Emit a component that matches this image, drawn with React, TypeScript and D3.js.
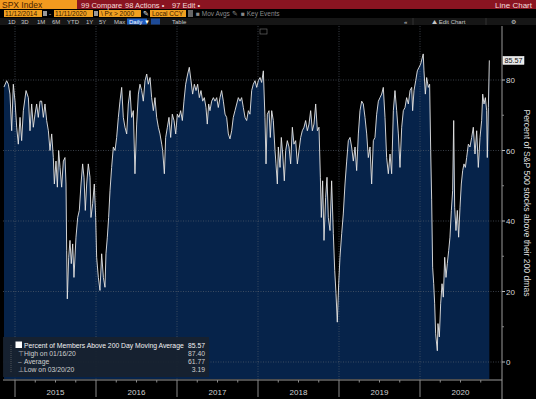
import React from "react";
import * as d3 from "d3";

// percent of S&P 500 members above their 200 day moving average, [decimal year, value]
const y2015 = [
  [2014.864, 78], [2014.897, 79.8], [2014.918, 78.8], [2014.938, 76], [2014.959, 65.6], [2014.979, 78.8],
  [2015.0, 74], [2015.021, 66.6], [2015.041, 61.8], [2015.062, 69.4], [2015.082, 62.8], [2015.103, 71.3],
  [2015.136, 77], [2015.165, 75], [2015.185, 65.6], [2015.206, 73.2], [2015.226, 66.6], [2015.247, 70.3],
  [2015.267, 73.2], [2015.288, 69.4], [2015.309, 74], [2015.329, 74], [2015.35, 69.4], [2015.37, 73.2],
  [2015.391, 68.5], [2015.412, 65.6], [2015.432, 60], [2015.453, 64.7], [2015.473, 58], [2015.486, 50.5],
  [2015.506, 57], [2015.523, 49.6], [2015.539, 60], [2015.556, 55.2], [2015.576, 49.6], [2015.597, 57],
  [2015.617, 58], [2015.63, 50.5], [2015.638, 31.6], [2015.646, 17.9], [2015.663, 29.7], [2015.679, 34.5],
  [2015.695, 27.9], [2015.712, 33.5], [2015.728, 24], [2015.753, 35.4], [2015.774, 41], [2015.794, 43],
  [2015.815, 50.5], [2015.835, 56.2], [2015.852, 52.4], [2015.868, 43], [2015.885, 50.5], [2015.905, 56.2],
  [2015.926, 52.4], [2015.938, 41], [2015.959, 44.9], [2015.979, 50.5], [2015.996, 41],
];

const y2016 = [
  [2016.008, 29.7], [2016.029, 24], [2016.049, 20.3], [2016.07, 30.7], [2016.091, 24], [2016.111, 21.2],
  [2016.123, 30.7], [2016.14, 35.4], [2016.156, 41], [2016.173, 48.6], [2016.193, 55.2], [2016.214, 61],
  [2016.235, 60], [2016.255, 63.7], [2016.276, 69.4], [2016.296, 74], [2016.317, 77.9], [2016.337, 69.4],
  [2016.358, 66.6], [2016.379, 64.7], [2016.399, 73.2], [2016.42, 77], [2016.44, 69.4], [2016.461, 71.3],
  [2016.481, 53.4], [2016.502, 67.5], [2016.523, 76], [2016.543, 78.8], [2016.564, 77], [2016.584, 74],
  [2016.605, 79.8], [2016.626, 81.7], [2016.646, 78.8], [2016.667, 80.7], [2016.687, 75], [2016.708, 71.3],
  [2016.728, 75], [2016.749, 69.4], [2016.77, 66.6], [2016.79, 64.7], [2016.811, 61.8], [2016.823, 60],
  [2016.844, 53.4], [2016.86, 63.7], [2016.881, 66.6], [2016.901, 69.4], [2016.922, 63.7], [2016.942, 70.3],
  [2016.963, 68.5], [2016.984, 64.7],
];

const y2017 = [
  [2017.004, 70.3], [2017.025, 69.4], [2017.045, 71.3], [2017.066, 68.5], [2017.086, 74], [2017.107, 78.8],
  [2017.132, 81.7], [2017.152, 83.6], [2017.173, 79.8], [2017.193, 76], [2017.214, 78.8], [2017.235, 77],
  [2017.255, 78.8], [2017.276, 75], [2017.296, 77], [2017.317, 74], [2017.337, 75], [2017.358, 72.2],
  [2017.374, 67.5], [2017.391, 73.2], [2017.407, 71.3], [2017.428, 74], [2017.449, 75], [2017.469, 74],
  [2017.49, 75], [2017.51, 72.2], [2017.531, 75], [2017.551, 77], [2017.572, 74], [2017.593, 70.3],
  [2017.613, 69.4], [2017.634, 64.7], [2017.654, 63.3], [2017.675, 65.6], [2017.695, 69.4], [2017.716, 71.3],
  [2017.737, 73.2], [2017.757, 75], [2017.778, 74], [2017.798, 75], [2017.819, 72.2], [2017.84, 69.4],
  [2017.86, 68.5], [2017.881, 71.3], [2017.901, 70.3], [2017.922, 77], [2017.942, 78.8], [2017.963, 79.8],
  [2017.984, 77.9],
];

const y2018 = [
  [2018.004, 79.8], [2018.025, 80.7], [2018.045, 79.3], [2018.066, 82.6], [2018.086, 69.4], [2018.099, 56.2],
  [2018.115, 70.3], [2018.136, 71.3], [2018.152, 63.7], [2018.169, 71.3], [2018.189, 68.5], [2018.21, 60],
  [2018.222, 56.2], [2018.239, 50.5], [2018.251, 61], [2018.272, 55.2], [2018.288, 63.7], [2018.305, 59],
  [2018.325, 51.4], [2018.342, 60], [2018.362, 62.8], [2018.383, 61], [2018.403, 56.2], [2018.424, 66.6],
  [2018.444, 61.8], [2018.465, 62.8], [2018.486, 56.2], [2018.506, 60], [2018.527, 63.7], [2018.547, 65.6],
  [2018.568, 66.6], [2018.588, 68.5], [2018.609, 65.6], [2018.63, 67.5], [2018.65, 71.3], [2018.671, 65.6],
  [2018.691, 67.5], [2018.712, 73.2], [2018.733, 65.6], [2018.753, 66.6], [2018.77, 52.4], [2018.782, 41],
  [2018.798, 51.4], [2018.815, 34.5], [2018.835, 46.7], [2018.852, 52.4], [2018.868, 41], [2018.889, 37.3],
  [2018.909, 51.4], [2018.93, 36.4], [2018.947, 26], [2018.963, 19.4], [2018.979, 11.3], [2018.996, 22.2],
];

const y2019 = [
  [2019.012, 29.7], [2019.033, 36.4], [2019.053, 42], [2019.074, 50.5], [2019.095, 57], [2019.115, 62.8],
  [2019.136, 63.7], [2019.156, 61], [2019.177, 57], [2019.198, 61], [2019.218, 54.3], [2019.239, 64.7],
  [2019.259, 71.3], [2019.28, 74], [2019.3, 73.2], [2019.321, 69.4], [2019.342, 64.7], [2019.362, 58],
  [2019.383, 61], [2019.403, 50.5], [2019.424, 62.8], [2019.444, 63.7], [2019.465, 70.3], [2019.486, 74],
  [2019.506, 75], [2019.527, 76], [2019.547, 77.9], [2019.568, 69.4], [2019.588, 58], [2019.609, 53.4],
  [2019.63, 59], [2019.65, 53.4], [2019.671, 71.3], [2019.691, 77], [2019.712, 71.3], [2019.733, 64.7],
  [2019.753, 55.2], [2019.774, 66.6], [2019.794, 71.3], [2019.815, 72.2], [2019.835, 75], [2019.856, 73.2],
  [2019.877, 77], [2019.897, 77.9], [2019.909, 71.3], [2019.926, 77], [2019.947, 79.8], [2019.967, 82.6],
  [2019.988, 83.6],
];

const y2020 = [
  [2020.008, 84.5], [2020.04, 87.4], [2020.049, 82.6], [2020.066, 76], [2020.082, 80.7], [2020.103, 77.9],
  [2020.119, 78.8], [2020.132, 60], [2020.144, 46], [2020.156, 26.9], [2020.169, 22.2], [2020.181, 16.5],
  [2020.193, 8], [2020.214, 3.19], [2020.222, 10.9], [2020.239, 7.1], [2020.255, 16.5], [2020.272, 22.2],
  [2020.288, 18.4], [2020.305, 29.7], [2020.321, 24], [2020.337, 27.9], [2020.354, 31.6], [2020.37, 35.4],
  [2020.387, 43], [2020.403, 48.6], [2020.416, 68.5], [2020.428, 43.9], [2020.444, 37.3], [2020.461, 43],
  [2020.477, 35.4], [2020.494, 43.9], [2020.51, 50.5], [2020.527, 54.3], [2020.543, 56.2], [2020.56, 55.2],
  [2020.576, 58], [2020.597, 61.8], [2020.617, 61], [2020.638, 63.7], [2020.658, 66.6], [2020.679, 59],
  [2020.7, 65.6], [2020.72, 55.2], [2020.741, 63.7], [2020.761, 68.5], [2020.774, 76], [2020.79, 73.2],
  [2020.807, 75], [2020.823, 71.3], [2020.831, 58], [2020.844, 72.2], [2020.856, 85.57],
];

const years = [2015, 2016, 2017, 2018, 2019, 2020];
const yTicks = [0, 20, 40, 60, 80];
const yMinor = [10, 30, 50, 70];
const lastValue = "85.57";

const legendRows = [
  { label: "Percent of Members Above 200 Day Moving Average", value: "85.57", mark: "" },
  { label: "High on 01/16/20", value: "87.40", mark: "⊤" },
  { label: "Average", value: "61.77", mark: "–" },
  { label: "Low on 03/20/20", value: "3.19", mark: "⊥" },
];

const periods = ["1D", "3D", "1M", "6M", "YTD", "1Y", "5Y", "Max"];
const periodX = [8, 21, 37, 52, 67, 86, 99, 114];

const FONT = "'Liberation Sans', Arial, sans-serif";

export default function App() {
  const data = [...y2015, ...y2016, ...y2017, ...y2018, ...y2019, ...y2020].map(([t, v]) => ({ t, v }));

  const top = 26;
  const bottom = 380;
  const axisX = 502;

  const x = d3.scaleLinear().domain([2015, 2021]).range([15, 501]);
  const y = d3.scaleLinear().domain([0, 80]).range([362, 80]);

  const area = d3.area<{ t: number; v: number }>()
    .x(d => x(d.t))
    .y0(bottom - 1)
    .y1(d => y(d.v));
  const line = d3.line<{ t: number; v: number }>()
    .x(d => x(d.t))
    .y(d => y(d.v));

  const quarters: number[] = [];
  years.forEach(yr => [0.25, 0.5, 0.75].forEach(q => quarters.push(yr + q)));

  const last = data[data.length - 1];

  return (
    <svg width={536} height={399} style={{ position: "absolute", left: 0, top: 0, background: "#000" }} fontFamily={FONT}>
      <rect x={0} y={0} width={536} height={399} fill="#000" />

      {/* header row 1 */}
      <rect x={0} y={0} width={536} height={9} fill="#8a1421" />
      <rect x={0} y={0} width={77} height={9} fill="#f29a1f" />
      <text x={2} y={7.5} fontSize={8.5} fill="#4a1f00">SPX Index</text>
      <text x={81} y={7.5} fontSize={7.5} fill="#f3dada">99 Compare</text>
      <text x={125} y={7.5} fontSize={7.5} fill="#f3dada">98 Actions •</text>
      <text x={172} y={7.5} fontSize={7.5} fill="#f3dada">97 Edit •</text>
      <text x={532} y={7.5} fontSize={8} fill="#f3dada" textAnchor="end">Line Chart</text>

      {/* header row 2 */}
      <rect x={4} y={10} width={38} height={7} fill="#f0a020" />
      <text x={5} y={16} fontSize={6.5} fill="#3a1a00">11/12/2014</text>
      <rect x={43} y={11} width={4} height={5} fill="#999" />
      <text x={49} y={16} fontSize={6.5} fill="#ccc">-</text>
      <rect x={54} y={10} width={39} height={7} fill="#f0a020" />
      <text x={55} y={16} fontSize={6.5} fill="#3a1a00">11/11/2020</text>
      <rect x={94} y={11} width={4} height={5} fill="#999" />
      <rect x={99} y={10} width={42} height={7} fill="#f0a020" />
      <text x={101} y={16} fontSize={6.5} fill="#3a1a00">\  Px &gt; 2000</text>
      <text x={143} y={16} fontSize={6.5} fill="#eee">✎</text>
      <rect x={150} y={10} width={36} height={7} fill="#f0a020" />
      <text x={152} y={16} fontSize={6.5} fill="#3a1a00">Local CCY</text>
      <rect x={188} y={10} width={5} height={7} fill="#666" />
      <text x={196} y={16} fontSize={6.5} fill="#8a8a8a">■ Mov Avgs ✎</text>
      <text x={241} y={16} fontSize={6.5} fill="#8a8a8a">■ Key Events</text>

      {/* header row 3 */}
      <rect x={0} y={18} width={536} height={7} fill="#161616" />
      {periods.map((p, i) => (
        <text key={p} x={periodX[i]} y={24} fontSize={6} fill="#c8c8c8">{p}</text>
      ))}
      <rect x={127} y={18.5} width={20} height={6} fill="#1f5cc0" />
      <text x={129} y={24} fontSize={6} fill="#fff">Daily ▼</text>
      <rect x={151} y={18.5} width={9} height={6} fill="#1d4a96" />
      <text x={172} y={24} fontSize={6} fill="#c8c8c8">Table</text>
      <text x={404} y={24} fontSize={6} fill="#c8c8c8">«</text>
      <line x1={413} x2={413} y1={18} y2={25} stroke="#333" />
      <text x={432} y={24} fontSize={6} fill="#c8c8c8">⛰ Edit Chart</text>
      <line x1={486} x2={486} y1={18} y2={25} stroke="#333" />
      <text x={511} y={24} fontSize={6} fill="#c8c8c8">⚙</text>
      <rect x={260} y={29} width={7} height={5} fill="none" stroke="#777" strokeWidth={0.6} />

      {/* area + grid */}
      <path d={area(data) ?? ""} fill="#06234a" />
      {yTicks.map(t => (
        <line key={"g" + t} x1={3} x2={axisX} y1={y(t)} y2={y(t)} stroke="#5a6270" strokeWidth={0.8} strokeDasharray="1,1.5" opacity={0.8} />
      ))}
      {years.map(yr => (
        <line key={"v" + yr} x1={x(yr)} x2={x(yr)} y1={top} y2={bottom} stroke="#5a6270" strokeWidth={0.8} strokeDasharray="1,1.5" opacity={0.8} />
      ))}
      <path d={line(data) ?? ""} fill="none" stroke="#e6e6e6" strokeWidth={0.9} strokeLinejoin="round" />

      {/* y axis */}
      <line x1={axisX} x2={axisX} y1={top} y2={399} stroke="#9a9a9a" strokeWidth={1} />
      {yTicks.map(t => (
        <g key={"yt" + t}>
          <line x1={axisX} x2={axisX + 3} y1={y(t)} y2={y(t)} stroke="#bbb" />
          <text x={axisX + 4} y={y(t) + 3} fontSize={8} fill="#d8d8d8">{t}</text>
        </g>
      ))}
      {yMinor.map(t => (
        <line key={"ym" + t} x1={axisX} x2={axisX + 2} y1={y(t)} y2={y(t)} stroke="#888" />
      ))}
      <rect x={axisX + 1} y={y(last.v) - 4} width={21} height={8} fill="#e8e8e8" stroke="#fff" strokeWidth={0.5} />
      <text x={axisX + 2.5} y={y(last.v) + 2.8} fontSize={7.2} fill="#111">{lastValue}</text>
      <text transform={`translate(524,203) rotate(90)`} textAnchor="middle" fontSize={8.6} fill="#dcdcdc">
        Percent of S&amp;P 500 stocks above their 200 dmas
      </text>

      {/* x axis */}
      <line x1={3} x2={axisX} y1={bottom} y2={bottom} stroke="#9a9a9a" />
      {years.map(yr => (
        <line key={"xt" + yr} x1={x(yr)} x2={x(yr)} y1={bottom} y2={397} stroke="#8a8a8a" />
      ))}
      {quarters.map(q => (
        <line key={"xq" + q} x1={x(q)} x2={x(q)} y1={bottom} y2={bottom + 2.5} stroke="#8a8a8a" />
      ))}
      {years.map(yr => (
        <text key={"xl" + yr} x={x(yr + 0.5)} y={395} fontSize={8} fill="#d0d0d0" textAnchor="middle">{yr}</text>
      ))}

      {/* legend */}
      <rect x={3} y={337} width={206} height={40} fill="#18212e" opacity={0.93} />
      <line x1={11} x2={11} y1={345} y2={372} stroke="#777" strokeWidth={0.6} strokeDasharray="1,1" />
      <rect x={15.5} y={341.5} width={6.5} height={6.5} fill="#fff" />
      {legendRows.map((r, i) => (
        <g key={r.label}>
          {r.mark && <text x={18} y={348 + i * 8} fontSize={6.5} fill="#aaa">{r.mark}</text>}
          <text x={24} y={348 + i * 8} fontSize={6.8} fill={i === 0 ? "#f2f2f2" : "#cfcfcf"}>{r.label}</text>
          <text x={205} y={348 + i * 8} fontSize={6.8} fill={i === 0 ? "#f2f2f2" : "#cfcfcf"} textAnchor="end">{r.value}</text>
        </g>
      ))}
    </svg>
  );
}
